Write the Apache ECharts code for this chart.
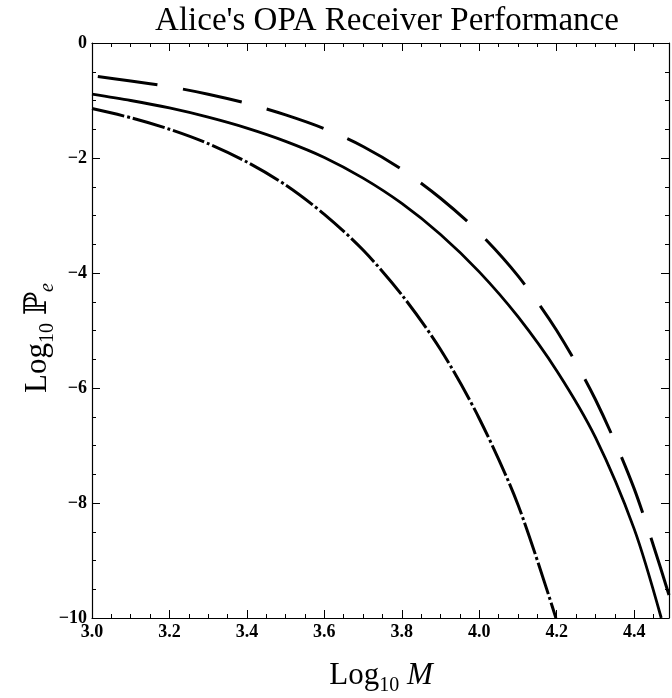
<!DOCTYPE html>
<html>
<head>
<meta charset="utf-8">
<script src="https://cdn.jsdelivr.net/npm/echarts@6/dist/echarts.min.js"></script>
<style>
html, body { margin: 0; padding: 0; background: #fff; }
#chart { width: 672px; height: 698px; }
</style>
</head>
<body>
<div id="chart"></div>
<script>
// values (x = Log10 M, y = Log10 Pe)
var solidX = [3.0, 3.1, 3.2, 3.3, 3.4, 3.5, 3.6, 3.7, 3.8, 3.9, 4.0, 4.1, 4.2, 4.3, 4.4, 4.47];
var solidY = [-0.89, -1.00, -1.13, -1.29, -1.48, -1.71, -1.99, -2.35, -2.79, -3.33, -3.98, -4.76, -5.70, -6.86, -8.45, -10];

var dashX = [3.0, 3.1, 3.2, 3.3, 3.4, 3.5, 3.6, 3.7, 3.8, 3.9, 4.0, 4.1, 4.2, 4.3, 4.4, 4.49];
var dashY = [-0.57, -0.66, -0.76, -0.89, -1.05, -1.25, -1.49, -1.80, -2.20, -2.70, -3.30, -4.05, -5.00, -6.20, -7.75, -9.60];

var dotDashX = [3.0, 3.1, 3.2, 3.3, 3.4, 3.5, 3.6, 3.7, 3.8, 3.9, 4.0, 4.1, 4.198];
var dotDashY = [-1.14, -1.30, -1.50, -1.75, -2.07, -2.47, -2.98, -3.60, -4.38, -5.33, -6.53, -8.03, -10];

var xRange = [3.0, 4.49];
var yRange = [-10, 0];

function pairs(xs, ys) {
    return xs.map(function (x, i) { return [x, ys[i]]; });
}

var serif = '"Liberation Serif", "DejaVu Serif", serif';

var chart = echarts.init(document.getElementById('chart'));

function frameX(pos, labels) {
    return {
        type: 'value',
        position: pos,
        min: xRange[0],
        max: xRange[1],
        interval: 0.2,
        axisLine: { show: true, onZero: false, lineStyle: { color: '#000', width: 1.2 } },
        axisTick: { show: true, inside: true, length: 8, lineStyle: { color: '#000', width: 1 } },
        minorTick: { show: true, splitNumber: 4, length: 4, lineStyle: { color: '#000', width: 1 } },
        splitLine: { show: false },
        axisLabel: {
            show: labels,
            showMaxLabel: false,
            margin: 5,
            color: '#000',
            fontFamily: serif,
            fontWeight: 'bold',
            fontSize: 18,
            formatter: function (v) { return v.toFixed(1); }
        }
    };
}

function frameY(pos, labels) {
    return {
        type: 'value',
        position: pos,
        min: yRange[0],
        max: yRange[1],
        interval: 2,
        axisLine: { show: true, onZero: false, lineStyle: { color: '#000', width: 1.2 } },
        axisTick: { show: true, inside: true, length: 8, lineStyle: { color: '#000', width: 1 } },
        minorTick: { show: true, splitNumber: 4, length: 4, lineStyle: { color: '#000', width: 1 } },
        splitLine: { show: false },
        axisLabel: {
            show: labels,
            margin: 5,
            color: '#000',
            fontFamily: serif,
            fontWeight: 'bold',
            fontSize: 18,
            formatter: function (v) { return v === 0 ? '0' : '\u2212' + Math.abs(v); }
        }
    };
}

option = {
    backgroundColor: '#fff',
    animation: false,
    title: {
        text: "Alice's OPA Receiver Performance",
        left: 382,
        textAlign: 'center',
        top: 0,
        textStyle: { fontFamily: serif, fontWeight: 'normal', fontSize: 33, color: '#000' }
    },
    grid: { left: 92, right: 3, top: 43, bottom: 80 },
    xAxis: [frameX('bottom', true), frameX('top', false)],
    yAxis: [frameY('left', true), frameY('right', false)],
    graphic: [
        {
            type: 'text',
            x: 381,
            y: 676,
            style: {
                text: '{a|Log}{s|10}{a| }{i|M}',
                align: 'center',
                verticalAlign: 'middle',
                rich: {
                    a: { fontFamily: serif, fontSize: 31, color: '#000', lineHeight: 40 },
                    s: { fontFamily: serif, fontSize: 20, color: '#000', verticalAlign: 'bottom', lineHeight: 20 },
                    i: { fontFamily: serif, fontSize: 31, fontStyle: 'italic', color: '#000', lineHeight: 40 }
                }
            }
        },
        {
            type: 'text',
            x: 38,
            y: 338,
            rotation: Math.PI / 2,
            style: {
                text: '{a|Log}{s|10}{a| \u2119}{e|e}',
                align: 'center',
                verticalAlign: 'middle',
                rich: {
                    a: { fontFamily: serif, fontSize: 31, color: '#000', lineHeight: 40 },
                    s: { fontFamily: serif, fontSize: 20, color: '#000', verticalAlign: 'bottom', lineHeight: 20 },
                    e: { fontFamily: serif, fontSize: 20, fontStyle: 'italic', color: '#000', verticalAlign: 'bottom', lineHeight: 20 }
                }
            }
        }
    ],
    series: [
        {
            type: 'line',
            data: pairs(dashX, dashY),
            smooth: 0.3,
            showSymbol: false,
            lineStyle: { color: '#000', width: 3, type: [60, 26], dashOffset: 80 }
        },
        {
            type: 'line',
            data: pairs(solidX, solidY),
            smooth: 0.3,
            showSymbol: false,
            lineStyle: { color: '#000', width: 2.8 }
        },
        {
            type: 'line',
            data: pairs(dotDashX, dotDashY),
            smooth: 0.3,
            showSymbol: false,
            lineStyle: { color: '#000', width: 3, type: [33, 3, 3, 3] }
        }
    ]
};

chart.setOption(option);
</script>
</body>
</html>
